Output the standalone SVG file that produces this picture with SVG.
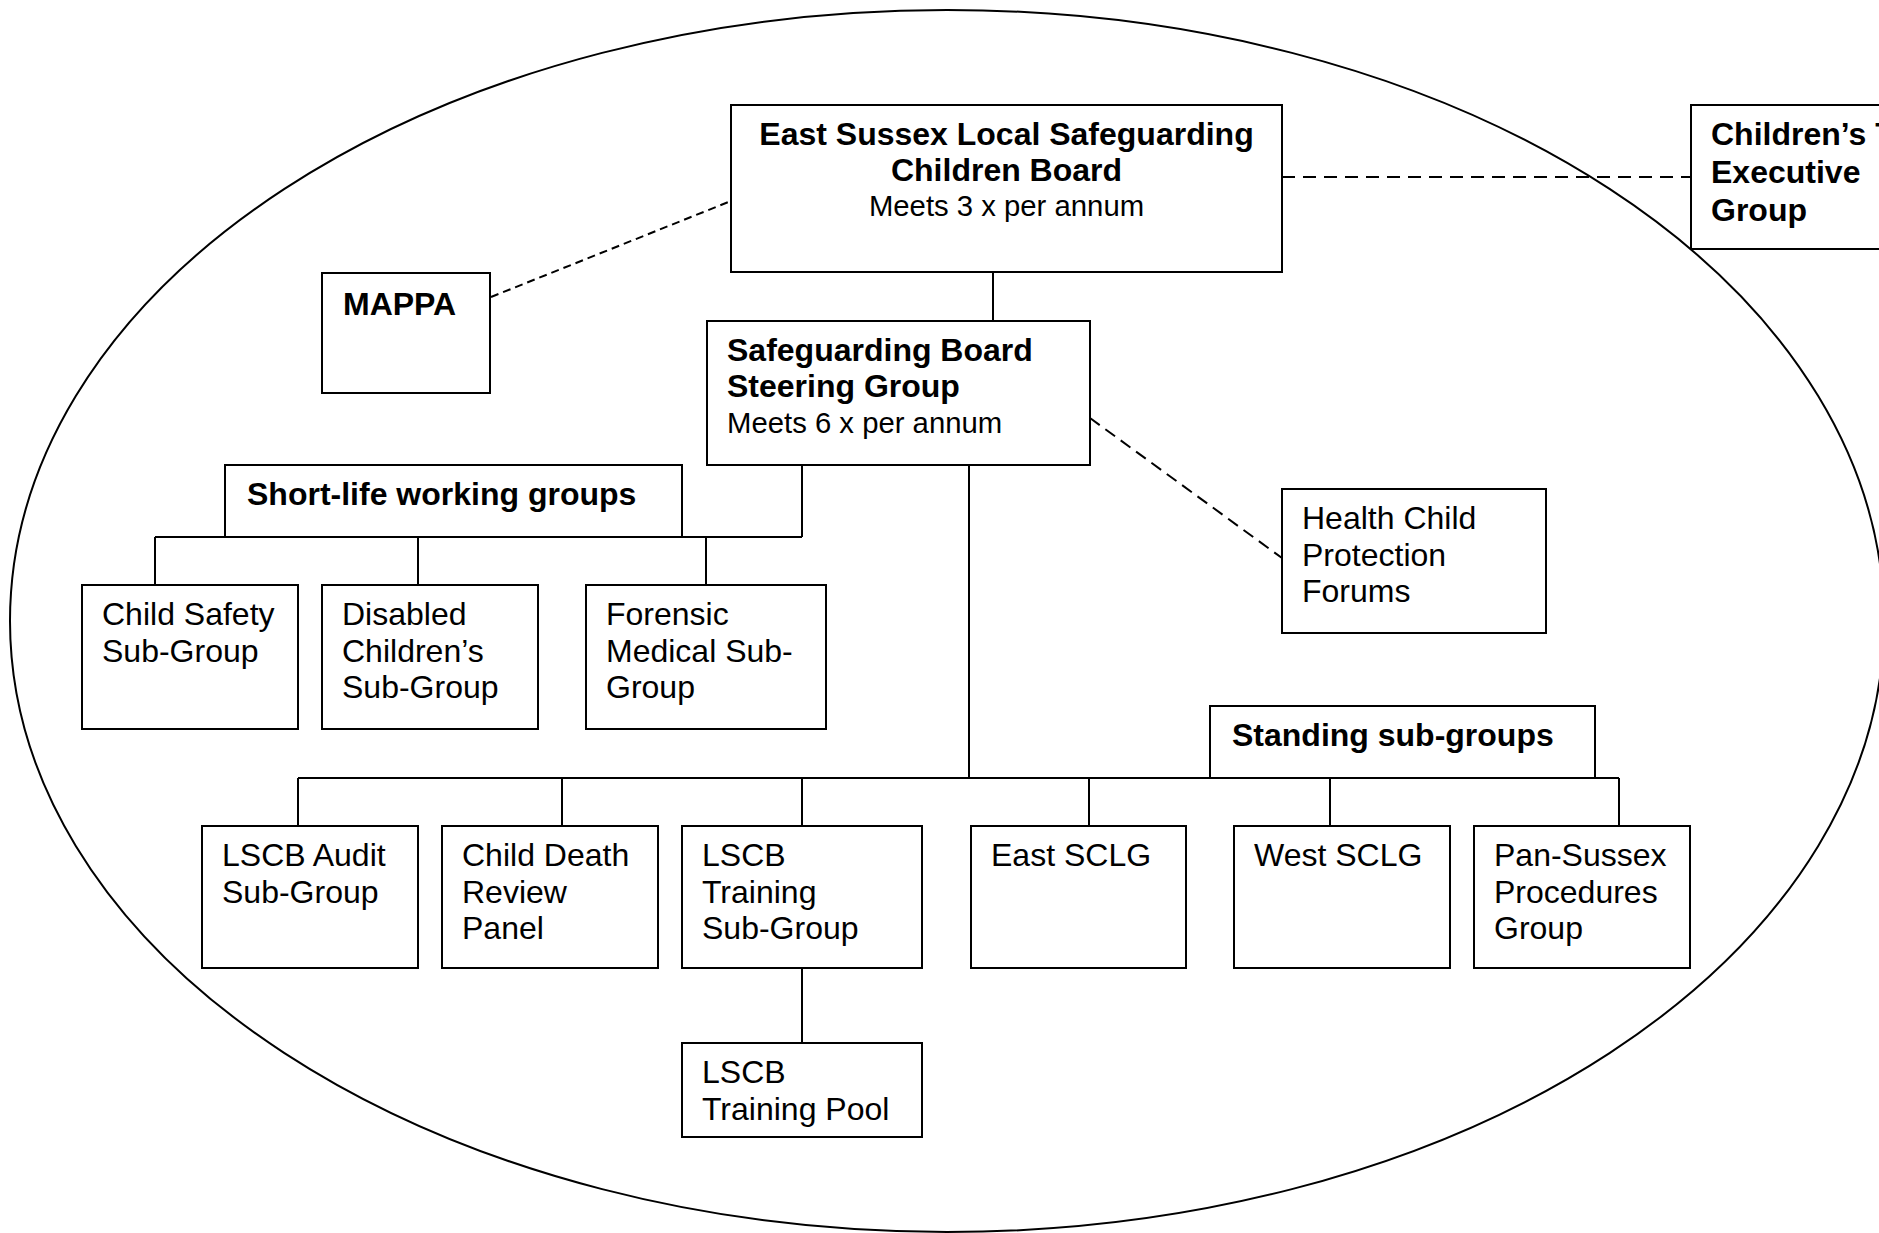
<svg xmlns="http://www.w3.org/2000/svg" width="1879" height="1233" viewBox="0 0 1879 1233">
<style>
.box{fill:#fff;stroke:#000;stroke-width:2}
.t{font-family:"Liberation Sans",Arial,sans-serif;font-size:32px;fill:#000}
.b{font-weight:bold}
.c{text-anchor:middle}
.m{font-size:29.3px}
.ln{stroke:#000;stroke-width:2;fill:none}
.d1{stroke-dasharray:13 8}
.d2{stroke-dasharray:8 5}
.d3{stroke-dasharray:12 7}
</style>
<rect width="1879" height="1233" fill="#fff"/>
<ellipse id="boundary" cx="947" cy="621" rx="937" ry="611" fill="none" stroke="#000" stroke-width="2"/>
<g id="connectors">
<path class="ln" d="M993,272 V321"/>
<path class="ln" d="M802,465 V537 M155,537 H802 M155,537 V585 M418,537 V585 M706,537 V585"/>
<path class="ln" d="M969,465 V778 M298,778 H1619 M298,778 V826 M562,778 V826 M802,778 V826 M1089,778 V826 M1330,778 V826 M1619,778 V826"/>
<path class="ln" d="M802,968 V1043"/>
<path class="ln d1" d="M1282,177 H1691"/>
<path class="ln d2" d="M491,297 L731,201"/>
<path class="ln d3" d="M1090,418 L1282,558"/>
</g>
<g id="eslscb">
<rect class="box" x="731" y="105" width="551" height="167"/>
<text class="t b c" x="1006.5" y="145">East Sussex Local Safeguarding</text>
<text class="t b c" x="1006.5" y="181">Children Board</text>
<text class="t c m" x="1006.5" y="216">Meets 3 x per annum</text>
</g>
<g id="childrens-trust">
<rect class="box" x="1691" y="105" width="300" height="144"/>
<text class="t b" x="1711" y="145">Children’s Trust</text>
<text class="t b" x="1711" y="183">Executive</text>
<text class="t b" x="1711" y="221">Group</text>
</g>
<g id="mappa">
<rect class="box" x="322" y="273" width="168" height="120"/>
<text class="t b" x="343" y="315">MAPPA</text>
</g>
<g id="steering">
<rect class="box" x="707" y="321" width="383" height="144"/>
<text class="t b" x="727" y="361">Safeguarding Board</text>
<text class="t b" x="727" y="397">Steering Group</text>
<text class="t m" x="727" y="433">Meets 6 x per annum</text>
</g>
<g id="health">
<rect class="box" x="1282" y="489" width="264" height="144"/>
<text class="t" x="1302" y="529">Health Child</text>
<text class="t" x="1302" y="566">Protection</text>
<text class="t" x="1302" y="602">Forums</text>
</g>
<g id="short-life">
<rect class="box" x="225" y="465" width="457" height="72"/>
<text class="t b" x="247" y="505">Short-life working groups</text>
</g>
<g id="child-safety">
<rect class="box" x="82" y="585" width="216" height="144"/>
<text class="t" x="102" y="625">Child Safety</text>
<text class="t" x="102" y="662">Sub-Group</text>
</g>
<g id="disabled">
<rect class="box" x="322" y="585" width="216" height="144"/>
<text class="t" x="342" y="625">Disabled</text>
<text class="t" x="342" y="662">Children’s</text>
<text class="t" x="342" y="698">Sub-Group</text>
</g>
<g id="forensic">
<rect class="box" x="586" y="585" width="240" height="144"/>
<text class="t" x="606" y="625">Forensic</text>
<text class="t" x="606" y="662">Medical Sub-</text>
<text class="t" x="606" y="698">Group</text>
</g>
<g id="standing">
<rect class="box" x="1210" y="706" width="385" height="72"/>
<text class="t b" x="1232" y="746">Standing sub-groups</text>
</g>
<g id="audit">
<rect class="box" x="202" y="826" width="216" height="142"/>
<text class="t" x="222" y="866">LSCB Audit</text>
<text class="t" x="222" y="903">Sub-Group</text>
</g>
<g id="child-death">
<rect class="box" x="442" y="826" width="216" height="142"/>
<text class="t" x="462" y="866">Child Death</text>
<text class="t" x="462" y="903">Review</text>
<text class="t" x="462" y="939">Panel</text>
</g>
<g id="training">
<rect class="box" x="682" y="826" width="240" height="142"/>
<text class="t" x="702" y="866">LSCB</text>
<text class="t" x="702" y="903">Training</text>
<text class="t" x="702" y="939">Sub-Group</text>
</g>
<g id="east-sclg">
<rect class="box" x="971" y="826" width="215" height="142"/>
<text class="t" x="991" y="866">East SCLG</text>
</g>
<g id="west-sclg">
<rect class="box" x="1234" y="826" width="216" height="142"/>
<text class="t" x="1254" y="866">West SCLG</text>
</g>
<g id="pan-sussex">
<rect class="box" x="1474" y="826" width="216" height="142"/>
<text class="t" x="1494" y="866">Pan-Sussex</text>
<text class="t" x="1494" y="903">Procedures</text>
<text class="t" x="1494" y="939">Group</text>
</g>
<g id="training-pool">
<rect class="box" x="682" y="1043" width="240" height="94"/>
<text class="t" x="702" y="1083">LSCB</text>
<text class="t" x="702" y="1120">Training Pool</text>
</g>
</svg>
